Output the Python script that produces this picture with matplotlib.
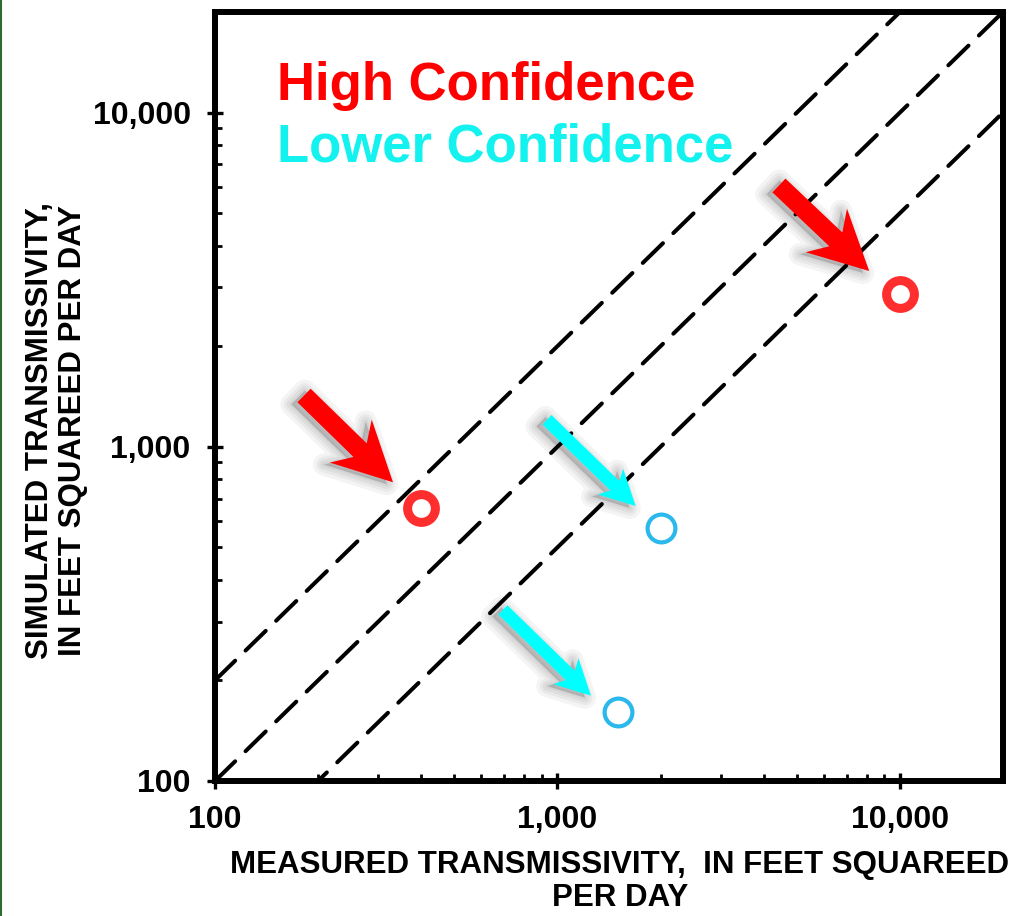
import matplotlib

matplotlib.use("Agg")
import numpy as np
import matplotlib.pyplot as plt
from matplotlib.patches import Polygon
from matplotlib.transforms import IdentityTransform
from matplotlib.ticker import FuncFormatter, LogLocator

plt.rcParams["font.family"] = ["Liberation Sans", "DejaVu Sans"]
plt.rcParams["font.weight"] = "bold"

# measured vs simulated transmissivity (ft^2/d)
high_measured = [400, 10000]
high_simulated = [655, 2870]
low_measured = [2000, 1500]
low_simulated = [573, 161]

# reference lines y = ratio * x
ref_ratios = [2.0, 1.0, 0.5]
ref_x = [100, 20000]

# arrows: (tail x, tail y, tip x, tip y) in data units
high_arrows = [(182, 1424, 331, 783), (4434, 6052, 8135, 3357)]
low_arrows = [(932, 1205, 1692, 665), (693, 325, 1253, 180)]

xlim = (100, 20000)
ylim = (100, 20000)
major_ticks = [100, 1000, 10000]

RED = "#ff0000"
RED_MK = "#ff2e2e"
CYAN = "#00ffff"
CYAN_MK = "#2bb8ec"

fig = plt.figure(figsize=(10.17, 9.16), dpi=100)
ax = fig.add_axes([0.2114, 0.1474, 0.7748, 0.8395])

ax.set_xscale("log")
ax.set_yscale("log")
ax.set_xlim(*xlim)
ax.set_ylim(*ylim)

for r in ref_ratios:
    ax.plot(ref_x, [r * v for v in ref_x], color="black", lw=2.9,
            dashes=(7, 3.6), dash_capstyle="round", zorder=2)


def _arrow(tail_tip, color, w, h, head_len, notch):
    """Notched block arrow drawn in pixel space from data end points."""
    x0, y0, x1, y1 = tail_tip
    t, p = ax.transData.transform([(x0, y0), (x1, y1)])
    u = (p - t) / np.hypot(*(p - t))
    n = np.array([-u[1], u[0]])
    pts = np.array([
        t + n * w,
        p - u * notch + n * w,
        p - u * head_len + n * h,
        p,
        p - u * head_len - n * h,
        p - u * notch - n * w,
        t - n * w,
    ])
    # soft drop shadow (stacked strokes)
    for lw in (16, 11, 7, 3):
        fig.add_artist(Polygon(pts + np.array([-6, -2]), closed=True,
                               transform=IdentityTransform(), fc="black",
                               ec="black", lw=lw, joinstyle="round",
                               alpha=0.045, zorder=3))
    fig.add_artist(Polygon(pts, closed=True, transform=IdentityTransform(),
                           fc=color, ec="none", zorder=4))


for a in high_arrows:
    _arrow(a, RED, 9.5, 30, 59, 46)
for a in low_arrows:
    _arrow(a, CYAN, 6.5, 18, 35, 29)

ax.plot(high_measured, high_simulated, "o", ms=20, mew=6.5,
        mfc="white", mec=RED_MK, zorder=5)
ax.plot(low_measured, low_simulated, "o", ms=20, mew=3,
        mfc="white", mec=CYAN_MK, zorder=5)

ax.set_xticks(major_ticks)
ax.set_yticks(major_ticks)
fmt = FuncFormatter(lambda v, _: f"{v:,.0f}")
ax.xaxis.set_major_formatter(fmt)
ax.yaxis.set_major_formatter(fmt)
ax.xaxis.set_minor_locator(LogLocator(base=10, subs=range(2, 10)))
ax.yaxis.set_minor_locator(LogLocator(base=10, subs=range(2, 10)))
ax.xaxis.set_minor_formatter(plt.NullFormatter())
ax.yaxis.set_minor_formatter(plt.NullFormatter())

ax.tick_params(which="major", direction="inout", length=11, width=2.4,
               labelsize=23, pad=12)
ax.tick_params(which="minor", direction="in", length=5, width=2)
for s in ax.spines.values():
    s.set_linewidth(4.3)

ax.set_xlabel("MEASURED TRANSMISSIVITY,  IN FEET SQUAREED\nPER DAY",
              fontsize=22.5, fontweight="bold", linespacing=1.12)
ax.set_ylabel("SIMULATED TRANSMISSIVITY,\nIN FEET SQUAREED PER DAY",
              fontsize=22.5, fontweight="bold", linespacing=1.12)
ax.xaxis.set_label_coords(0.514, -0.09)
ax.yaxis.set_label_coords(-0.161, 0.456)

ax.text(0.079, 0.8856, "High Confidence", transform=ax.transAxes,
        color=RED, fontsize=38, fontweight="bold", va="baseline")
ax.text(0.079, 0.805, "Lower Confidence", transform=ax.transAxes,
        color="#14f2f0", fontsize=38, fontweight="bold", va="baseline")

# thin dark green edge at left
fig.add_artist(plt.Line2D([0.001, 0.001], [0, 1], transform=fig.transFigure,
                          color="#2e6b2e", lw=1.5))

fig.savefig("out.png", dpi=100, facecolor="white")
